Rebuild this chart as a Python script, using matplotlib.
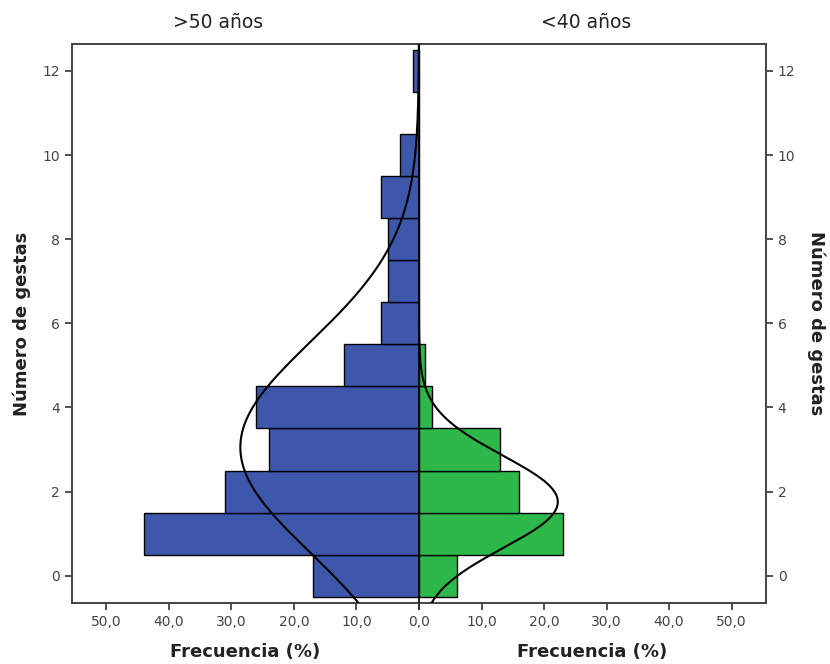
import numpy as np
import matplotlib
matplotlib.use("Agg")
from matplotlib import pyplot as plt

plt.rcParams["font.family"] = ["DejaVu Sans"]

# Número de gestas (categorías del eje vertical)
gestas = np.arange(0, 13)

# Frecuencia (%) por grupo de edad
freq_mayor50 = [17, 44, 31, 24, 26, 12, 6, 5, 5, 6, 3, 0, 1]
freq_menor40 = [6, 23, 16, 13, 2, 1, 0, 0, 0, 0, 0, 0, 0]

titulo_izq = ">50 años"
titulo_der = "<40 años"
xticks = [0, 10, 20, 30, 40, 50]
xticklabels = ["0,0", "10,0", "20,0", "30,0", "40,0", "50,0"]
yticks = [0, 2, 4, 6, 8, 10, 12]

azul = "#3D58AB"
verde = "#2FB84A"
gris = "#333333"

xmax = 55.5
ylim = (-0.65, 12.64)


def curva_normal(valores, y):
    # normal ajustada a la distribución, escalada al total de la frecuencia
    v = np.asarray(valores, dtype=float)
    total = v.sum()
    media = (v * gestas).sum() / total
    sd = np.sqrt((v * (gestas - media) ** 2).sum() / total)
    return total / (sd * np.sqrt(2 * np.pi)) * np.exp(-(y - media) ** 2 / (2 * sd ** 2))


fig = plt.figure(figsize=(8.3, 6.64), dpi=100)
ax_l = fig.add_axes([72 / 830, 1 - 603 / 664, (419 - 72) / 830, (603 - 44) / 664])
ax_r = fig.add_axes([419 / 830, 1 - 603 / 664, (766 - 419) / 830, (603 - 44) / 664])

yy = np.linspace(ylim[0], ylim[1], 400)

for ax, datos, color in [(ax_l, freq_mayor50, azul), (ax_r, freq_menor40, verde)]:
    ax.barh(gestas, datos, height=1.0, color=color, edgecolor="black", linewidth=1.0, zorder=2)
    ax.plot(curva_normal(datos, yy), yy, color="black", lw=1.5, zorder=3)
    ax.axvline(0, color="black", lw=1.2, zorder=4)
    ax.set_ylim(*ylim)
    ax.set_xticks(xticks)
    ax.set_yticks(yticks)
    ax.set_xlabel("Frecuencia (%)", fontsize=13, fontweight="bold", color="#222222", labelpad=10)
    ax.tick_params(axis="both", direction="out", length=5, width=1.2, colors=gris,
                   labelsize=10, labelcolor="#444444")
    for s in ax.spines.values():
        s.set_color("#444444")
        s.set_linewidth(1.4)

# el 0,0 central se rotula una sola vez
ax_l.set_xticklabels([""] + xticklabels[1:])
ax_r.set_xticklabels(xticklabels)

ax_l.set_xlim(xmax, 0)
ax_r.set_xlim(0, xmax)

ax_l.spines["right"].set_visible(False)
ax_r.spines["left"].set_visible(False)

ax_l.set_ylabel("Número de gestas", fontsize=13, fontweight="bold", color="#222222", labelpad=8)
ax_r.yaxis.tick_right()
ax_r.yaxis.set_label_position("right")
ax_r.set_ylabel("Número de gestas", fontsize=13, fontweight="bold", color="#222222",
                rotation=270, labelpad=22)

fig.text(218 / 830, 1 - 22 / 664, titulo_izq, fontsize=13.5, color="#222222", ha="center", va="center")
fig.text(586 / 830, 1 - 22 / 664, titulo_der, fontsize=13.5, color="#222222", ha="center", va="center")

fig.savefig("out.png", dpi=100, facecolor="white")
